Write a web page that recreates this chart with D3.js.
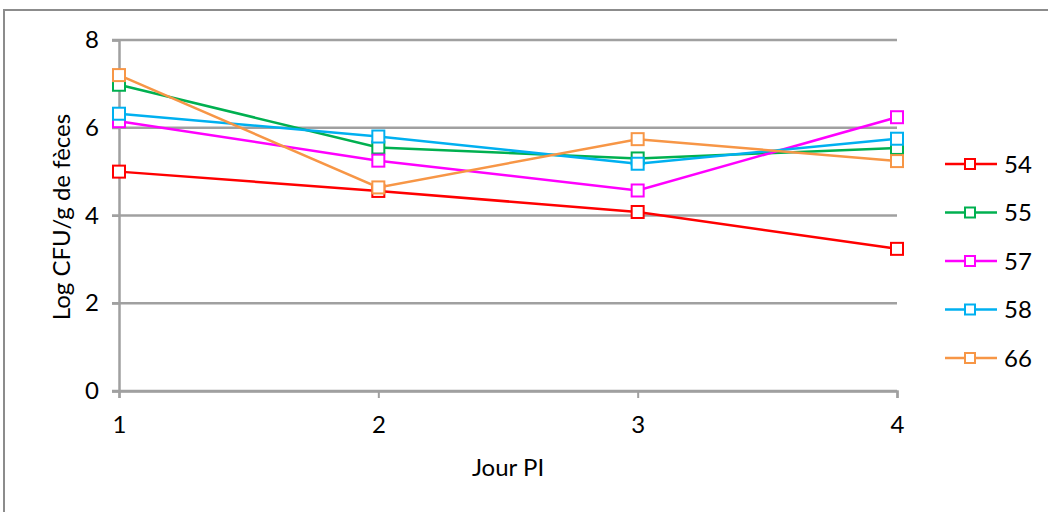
<!DOCTYPE html>
<html><head><meta charset="utf-8">
<script src="https://cdn.jsdelivr.net/npm/d3@7"></script>
<style>body{margin:0;background:#fff;} text{font-family:Lato,"Open Sans",sans-serif;fill:#000;}</style>
</head><body>
<svg id="c" width="1048" height="512"></svg>
<script>
const days = [1, 2, 3, 4];
const seriesNames = ["54", "55", "57", "58", "66"];
const s54 = [5.0, 4.56, 4.08, 3.24];
const s55 = [6.98, 5.55, 5.3, 5.54];
const s57 = [6.15, 5.25, 4.57, 6.24];
const s58 = [6.32, 5.8, 5.18, 5.75];
const s66 = [7.2, 4.64, 5.74, 5.24];
const seriesColors = ["#FF0000", "#00B050", "#FF00FF", "#00B0F0", "#F79646"];
const yTicks = [0, 2, 4, 6, 8];
const xLabel = "Jour PI";
const yLabel = "Log CFU/g de fèces";

const values = [s54, s55, s57, s58, s66];
const svg = d3.select("#c");
const FONT = "Lato, 'Open Sans', sans-serif";
// chart border
svg.append("rect").attr("x", 4).attr("y", 10).attr("width", 1100).attr("height", 600)
  .attr("fill", "none").attr("stroke", "#8c8c8c").attr("stroke-width", 2);

const x = d3.scaleLinear().domain([1, 4]).range([119, 897]);
const y = d3.scaleLinear().domain([0, 8]).range([391, 40]);

// gridlines
const grid = svg.append("g");
yTicks.forEach(t => {
  grid.append("line").attr("x1", 112).attr("x2", 897).attr("y1", y(t)).attr("y2", y(t))
    .attr("stroke", "#a0a0a0").attr("stroke-width", 2.5);
});
// y axis
const yAxis = svg.append("g").attr("transform", "translate(119,0)")
  .call(d3.axisLeft(y).tickValues(yTicks).tickSize(7).tickPadding(13).tickFormat(d3.format("d")));
yAxis.attr("font-family", FONT).attr("font-size", 24);
yAxis.select(".domain").attr("stroke", "#a0a0a0").attr("stroke-width", 2.5);
yAxis.selectAll(".tick line").attr("stroke", "#a0a0a0").attr("stroke-width", 2);
yAxis.selectAll("text").attr("fill", "#000");

const xAxis = svg.append("g").attr("transform", `translate(0,${y(0)})`)
  .call(d3.axisBottom(x).tickValues(days).tickSize(7).tickPadding(18).tickFormat(d3.format("d")));
xAxis.attr("font-family", FONT).attr("font-size", 24);
xAxis.select(".domain").attr("stroke", "#a0a0a0").attr("stroke-width", 2.5);
xAxis.selectAll(".tick line").attr("stroke", "#a0a0a0").attr("stroke-width", 2);
xAxis.selectAll("text").attr("fill", "#000");

svg.append("text").attr("x", 508).attr("y", 476).attr("text-anchor", "middle")
  .style("font-size", "24px").text(xLabel);
svg.append("text").attr("transform", "translate(70,217) rotate(-90)").attr("text-anchor", "middle")
  .style("font-size", "24px").text(yLabel);

const line = d3.line().x((d, i) => x(days[i])).y(d => y(d));
values.forEach((vals, k) => {
  const g = svg.append("g");
  g.append("path").attr("d", line(vals)).attr("fill", "none")
    .attr("stroke", seriesColors[k]).attr("stroke-width", 2.5);
  g.selectAll("rect").data(vals).join("rect")
    .attr("x", (d, i) => x(days[i]) - 6).attr("y", d => y(d) - 6)
    .attr("width", 12).attr("height", 12)
    .attr("fill", "#fff").attr("stroke", seriesColors[k]).attr("stroke-width", 2);
});

// legend
const legendY = d3.scalePoint().domain(seriesNames).range([164, 358]);
seriesNames.forEach((n, k) => {
  const ly = legendY(n);
  const g = svg.append("g");
  g.append("line").attr("x1", 945).attr("x2", 997).attr("y1", ly).attr("y2", ly)
    .attr("stroke", seriesColors[k]).attr("stroke-width", 2.5);
  g.append("rect").attr("x", 965).attr("y", ly - 5).attr("width", 10).attr("height", 10)
    .attr("fill", "#fff").attr("stroke", seriesColors[k]).attr("stroke-width", 2);
  g.append("text").attr("x", 1004).attr("y", ly).attr("dy", "0.36em")
    .style("font-size", "24px").text(n);
});
</script>
</body></html>
